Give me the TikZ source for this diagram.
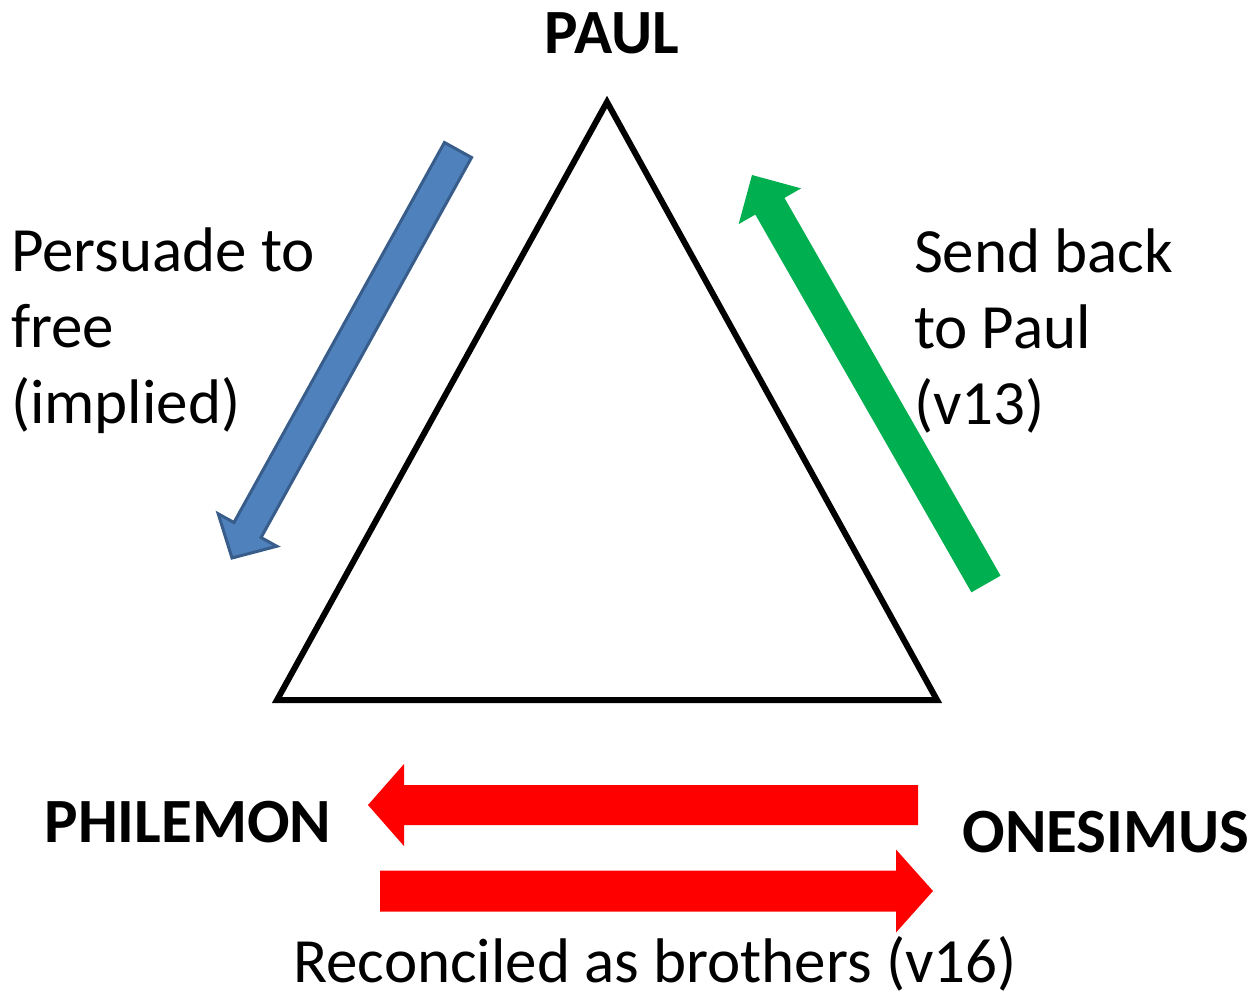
\documentclass[tikz,border=0pt]{standalone}
\usepackage{fontspec}
\setmainfont{Carlito}
\usetikzlibrary{calc}
\definecolor{arrowblue}{RGB}{79,129,189}
\definecolor{arrowblueline}{RGB}{56,93,138}
\definecolor{arrowgreen}{RGB}{0,176,80}
\definecolor{arrowred}{RGB}{255,0,0}
% block arrow: style, tail, tip, half shaft width, half head width, head length
\newcommand{\blockarrow}[6]{%
  \coordinate (neck) at ($(#3)!#6!(#2)$);
  \path[#1] ($(#2)!#4!90:(#3)$) -- ($(neck)!#4!90:(#3)$) -- ($(neck)!#5!90:(#3)$) -- (#3)
    -- ($(neck)!#5!-90:(#3)$) -- ($(neck)!#4!-90:(#3)$) -- ($(#2)!#4!-90:(#3)$) -- cycle;}
\begin{document}
\begin{tikzpicture}[x=1pt,y=-1pt,line width=6pt,
    person/.style={font=\fontsize{63}{76}\selectfont\bfseries,inner sep=0pt},
    caption/.style={font=\fontsize{63}{76}\selectfont,inner sep=0pt,align=left}]
	\useasboundingbox (0,0) rectangle (1255,997);
	% corners of the triangle
	\coordinate (top) at (607,102);
	\coordinate (left) at (277,700);
	\coordinate (right) at (937,700);
	\draw[black,line join=miter] (top) -- (left) -- (right) -- cycle;
	% names
	\node[person] (paul) at (612,33) {PAUL};
	\node[person] (philemon) at (188,822) {PHILEMON};
	\node[person] (onesimus) at (1106,832) {ONESIMUS};
	% texts
	\node[caption,anchor=base west] (persuade) at (8,423) {Persuade to\\free\\(implied)};
	\node[caption,anchor=base west] (sendback) at (911,424) {Send back\\to Paul\\(v13)};
	\node[caption,anchor=base] (reconciled) at (655,982) {Reconciled as brothers (v16)};
	% arrows
	\coordinate (blueTail) at (458,150);
	\coordinate (blueTip) at (232,558);
	\coordinate (greenTail) at (986,584);
	\coordinate (greenTip) at (752,175);
	\coordinate (redTopTail) at (918,805);
	\coordinate (redTopTip) at (368,805);
	\coordinate (redBotTail) at (380,891);
	\coordinate (redBotTip) at (933,891);
	\blockarrow{fill=arrowblue,draw=arrowblueline,line width=3pt,line join=miter}{blueTail}{blueTip}{15.5pt}{33.5pt}{32pt}
	\blockarrow{fill=arrowgreen}{greenTail}{greenTip}{16.8pt}{36pt}{36pt}
	\blockarrow{fill=arrowred}{redTopTail}{redTopTip}{20pt}{41pt}{36pt}
	\blockarrow{fill=arrowred}{redBotTail}{redBotTip}{20.5pt}{41.5pt}{37pt}
\end{tikzpicture}
\end{document}
